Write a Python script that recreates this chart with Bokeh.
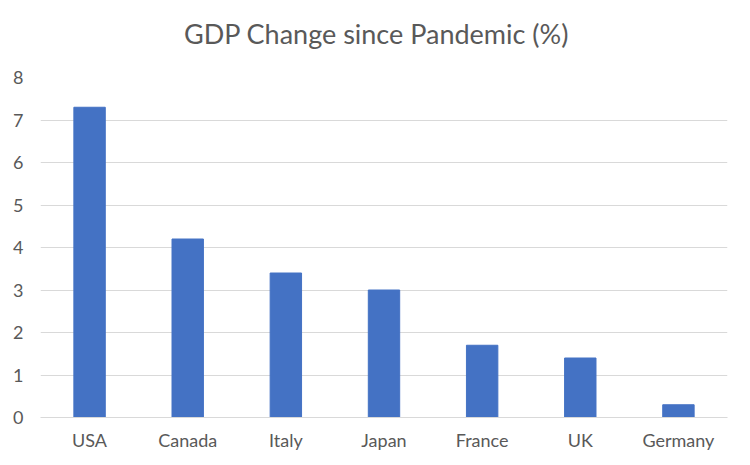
from bokeh.plotting import figure
from bokeh.models import FactorRange, Range1d, ColumnDataSource, FixedTicker
from bokeh.layouts import column
from bokeh.core.properties import value
from bokeh.embed import file_html
from bokeh.resources import INLINE

countries = ["USA", "Canada", "Italy", "Japan", "France", "UK", "Germany"]
gdp_change = [7.3, 4.2, 3.4, 3.0, 1.7, 1.4, 0.3]
y_ticks = [0, 1, 2, 3, 4, 5, 6, 7, 8]
title_text = ["GDP Change since Pandemic (%)"]

FONT = "Lato"
GREY = "#595959"

W = 734
TITLE_H = 62

# title strip
t = figure(width=W, height=TITLE_H, output_backend="svg", toolbar_location=None,
           x_range=Range1d(0, W), y_range=Range1d(0, TITLE_H),
           x_axis_type=None, y_axis_type=None,
           min_border_left=0, min_border_right=0, min_border_top=0, min_border_bottom=0)
t.grid.visible = False
t.outline_line_color = None
t.text(x=[W / 2 - 8], y=[TITLE_H - 33], text=title_text, text_align="center",
       text_baseline="alphabetic", text_font=value(FONT), text_font_size="27px",
       text_color=GREY)

src = ColumnDataSource(data=dict(country=countries, value=gdp_change))

p = figure(width=W, height=453 - TITLE_H, output_backend="svg", toolbar_location=None,
           x_range=FactorRange(factors=countries, range_padding=0),
           y_range=Range1d(0, 8),
           min_border_left=40, min_border_right=7, min_border_top=77 - TITLE_H,
           min_border_bottom=30)

p.vbar(x="country", top="value", width=0.32, color="#4472C4", source=src)

p.outline_line_color = None
p.background_fill_color = "white"
p.border_fill_color = "white"

p.xgrid.grid_line_color = None
p.ygrid.grid_line_color = "#D9D9D9"
p.ygrid.grid_line_width = 1
p.yaxis.ticker = FixedTicker(ticks=y_ticks)

for ax in (p.xaxis, p.yaxis):
    ax.major_tick_line_color = None
    ax.minor_tick_line_color = None
    ax.major_label_text_font = FONT
    ax.major_label_text_font_size = "18px"
    ax.major_label_text_color = GREY

p.yaxis.axis_line_color = None
p.xaxis.axis_line_color = "#D9D9D9"
p.xaxis.major_label_standoff = 5
p.yaxis.major_label_standoff = 11

layout = column(t, p, spacing=0)
open("out.html", "w").write(file_html(layout, INLINE))
